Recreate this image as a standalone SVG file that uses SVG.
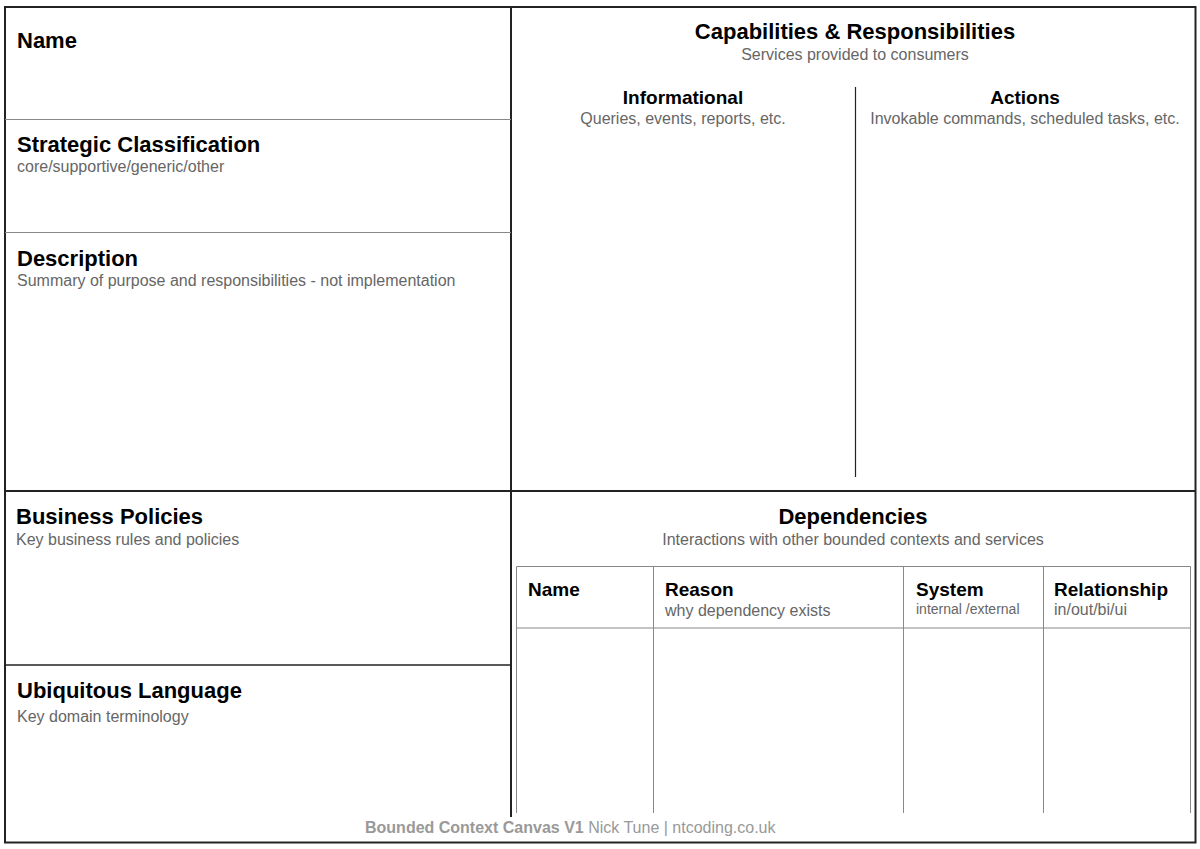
<svg xmlns="http://www.w3.org/2000/svg" width="1200" height="849" viewBox="0 0 1200 849">
<style>
.h{font-family:"Liberation Sans",Arial,sans-serif;font-weight:bold;font-size:22px;fill:#000}
.h2{font-family:"Liberation Sans",Arial,sans-serif;font-weight:bold;font-size:19px;fill:#000}
.s{font-family:"Liberation Sans",Arial,sans-serif;font-size:16px;fill:#666}
.s14{font-family:"Liberation Sans",Arial,sans-serif;font-size:14px;fill:#666}
.c{text-anchor:middle}
.dark{stroke:#222;stroke-width:2;fill:none}
.gray{stroke:#888;stroke-width:1;fill:none}
.foot{font-family:"Liberation Sans",Arial,sans-serif;font-size:16px;fill:#999}
</style>
<rect x="0" y="0" width="1200" height="849" fill="#fff"/>
<g id="connectors">
<rect class="dark" x="5" y="7" width="1190.5" height="835.5"/>
<line class="dark" x1="511" y1="7" x2="511" y2="817"/>
<line class="dark" x1="5" y1="491" x2="1195.5" y2="491"/>
<line class="gray" x1="5" y1="119.5" x2="511" y2="119.5"/>
<line class="gray" x1="5" y1="232.5" x2="511" y2="232.5"/>
<line class="dark" x1="5" y1="665" x2="511" y2="665" style="stroke-width:1.5"/>
<line x1="855.5" y1="87" x2="855.5" y2="477" stroke="#222" stroke-width="1.2"/>
</g>
<g id="name"><text class="h" x="17" y="48">Name</text></g>
<g id="strategic"><text class="h" x="17" y="152">Strategic Classification</text><text class="s" x="17" y="172">core/supportive/generic/other</text></g>
<g id="description"><text class="h" x="17" y="266">Description</text><text class="s" x="17" y="286">Summary of purpose and responsibilities - not implementation</text></g>
<g id="capabilities"><text class="h c" x="855" y="39">Capabilities &amp; Responsibilities</text><text class="s c" x="855" y="60">Services provided to consumers</text></g>
<g id="informational"><text class="h2 c" x="683" y="104">Informational</text><text class="s c" x="683" y="124">Queries, events, reports, etc.</text></g>
<g id="actions"><text class="h2 c" x="1025" y="104">Actions</text><text class="s c" x="1025" y="124">Invokable commands, scheduled tasks, etc.</text></g>
<g id="business-policies"><text class="h" x="16" y="524">Business Policies</text><text class="s" x="16" y="545">Key business rules and policies</text></g>
<g id="ubiquitous-language"><text class="h" x="17" y="698">Ubiquitous Language</text><text class="s" x="17" y="722">Key domain terminology</text></g>
<g id="dependencies"><text class="h c" x="853" y="524">Dependencies</text><text class="s c" x="853" y="545">Interactions with other bounded contexts and services</text></g>
<g id="dependency-table">
<path class="gray" d="M516.5 813 V566.5 H1190.5 V813 M516.5 628 H1190.5 M653.5 566.5 V813 M903.5 566.5 V813 M1043.5 566.5 V813"/>
<text class="h2" x="528" y="596">Name</text>
<text class="h2" x="665" y="596">Reason</text><text class="s" x="665" y="616">why dependency exists</text>
<text class="h2" x="916" y="596">System</text><text class="s14" x="916" y="614">internal /external</text>
<text class="h2" x="1054" y="596">Relationship</text><text class="s" x="1054" y="615">in/out/bi/ui</text>
</g>
<g id="footer"><text class="foot" x="365" y="833"><tspan font-weight="bold">Bounded Context Canvas V1</tspan> Nick Tune | ntcoding.co.uk</text></g>
</svg>
